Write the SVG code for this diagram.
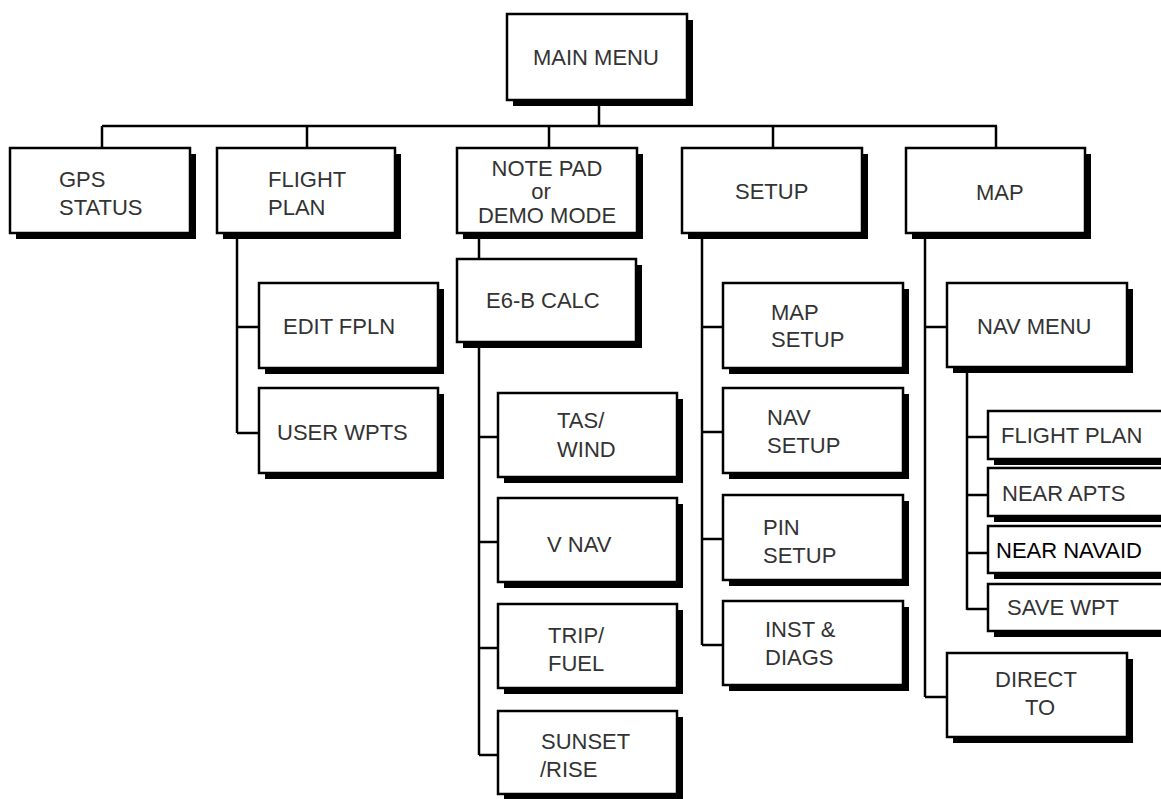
<svg xmlns="http://www.w3.org/2000/svg" width="1161" height="799" viewBox="0 0 1161 799">
<style>
.sh{fill:#000}
.bx{fill:#fff;stroke:#000;stroke-width:2.5}
.t{font-family:"Liberation Sans",Arial,sans-serif;font-size:22px;fill:#333}
.c{fill:none;stroke:#000;stroke-width:2.5}
</style>
<rect width="1161" height="799" fill="#fff"/>
<g id="connectors">
<path class="c" d="M599,100V126M102,126H997M102,126V148M307,126V148M549,126V148M773,126V148M996,126V148"/>
<path class="c" d="M237,233V433M237,327H259M237,433H259"/>
<path class="c" d="M479,233V259"/>
<path class="c" d="M479,342V755M479,437H498M479,542H498M479,648H498M479,755H498"/>
<path class="c" d="M702,233V645M702,327H723M702,432H723M702,539H723M702,645H723"/>
<path class="c" d="M925,233V697M925,327H947M925,697H947"/>
<path class="c" d="M967,367V610M967,437H988M967,495H988M967,553H988M967,609H988"/>
</g>
<g id="main-menu"><rect class="sh" x="513" y="20" width="180" height="86"/><rect class="bx" x="507" y="14" width="180" height="86"/><text class="t" x="533" y="65">MAIN MENU</text></g>
<g id="gps-status"><rect class="sh" x="16" y="154" width="180" height="85"/><rect class="bx" x="10" y="148" width="180" height="85"/><text class="t" x="59" y="187">GPS</text><text class="t" x="59" y="215">STATUS</text></g>
<g id="flight-plan"><rect class="sh" x="223" y="154" width="178" height="85"/><rect class="bx" x="217" y="148" width="178" height="85"/><text class="t" x="268" y="187">FLIGHT</text><text class="t" x="268" y="215">PLAN</text></g>
<g id="note-pad"><rect class="sh" x="463" y="154" width="180" height="85"/><rect class="bx" x="457" y="148" width="180" height="85"/><text class="t" x="547" y="176" text-anchor="middle">NOTE PAD</text><text class="t" x="541" y="199" text-anchor="middle">or</text><text class="t" x="547" y="223" text-anchor="middle">DEMO MODE</text></g>
<g id="setup"><rect class="sh" x="688" y="154" width="180" height="85"/><rect class="bx" x="682" y="148" width="180" height="85"/><text class="t" x="735" y="199">SETUP</text></g>
<g id="map"><rect class="sh" x="912" y="154" width="179" height="85"/><rect class="bx" x="906" y="148" width="179" height="85"/><text class="t" x="976" y="200">MAP</text></g>
<g id="edit-fpln"><rect class="sh" x="265" y="289" width="179" height="85"/><rect class="bx" x="259" y="283" width="179" height="85"/><text class="t" x="283" y="334">EDIT FPLN</text></g>
<g id="user-wpts"><rect class="sh" x="265" y="394" width="179" height="85"/><rect class="bx" x="259" y="388" width="179" height="85"/><text class="t" x="277" y="440">USER WPTS</text></g>
<g id="e6b-calc"><rect class="sh" x="463" y="265" width="179" height="83"/><rect class="bx" x="457" y="259" width="179" height="83"/><text class="t" x="486" y="308">E6-B CALC</text></g>
<g id="tas-wind"><rect class="sh" x="504" y="399" width="179" height="84"/><rect class="bx" x="498" y="393" width="179" height="84"/><text class="t" x="557" y="428">TAS/</text><text class="t" x="557" y="457">WIND</text></g>
<g id="v-nav"><rect class="sh" x="504" y="504" width="179" height="84"/><rect class="bx" x="498" y="498" width="179" height="84"/><text class="t" x="547" y="552">V NAV</text></g>
<g id="trip-fuel"><rect class="sh" x="504" y="610" width="179" height="84"/><rect class="bx" x="498" y="604" width="179" height="84"/><text class="t" x="548" y="643">TRIP/</text><text class="t" x="548" y="671">FUEL</text></g>
<g id="sunset-rise"><rect class="sh" x="504" y="717" width="179" height="83"/><rect class="bx" x="498" y="711" width="179" height="83"/><text class="t" x="541" y="749">SUNSET</text><text class="t" x="540" y="777">/RISE</text></g>
<g id="map-setup"><rect class="sh" x="729" y="289" width="180" height="85"/><rect class="bx" x="723" y="283" width="180" height="85"/><text class="t" x="771" y="320">MAP</text><text class="t" x="771" y="347">SETUP</text></g>
<g id="nav-setup"><rect class="sh" x="729" y="394" width="180" height="85"/><rect class="bx" x="723" y="388" width="180" height="85"/><text class="t" x="767" y="425">NAV</text><text class="t" x="767" y="453">SETUP</text></g>
<g id="pin-setup"><rect class="sh" x="729" y="501" width="180" height="85"/><rect class="bx" x="723" y="495" width="180" height="85"/><text class="t" x="763" y="535">PIN</text><text class="t" x="763" y="563">SETUP</text></g>
<g id="inst-diags"><rect class="sh" x="729" y="607" width="180" height="84"/><rect class="bx" x="723" y="601" width="180" height="84"/><text class="t" x="765" y="637">INST &amp;</text><text class="t" x="765" y="665">DIAGS</text></g>
<g id="nav-menu"><rect class="sh" x="953" y="289" width="180" height="84"/><rect class="bx" x="947" y="283" width="180" height="84"/><text class="t" x="977" y="334">NAV MENU</text></g>
<g id="nm-flight-plan"><rect class="sh" x="994" y="417" width="190" height="48"/><rect class="bx" x="988" y="411" width="190" height="48"/><text class="t" x="1001" y="443">FLIGHT PLAN</text></g>
<g id="near-apts"><rect class="sh" x="994" y="474" width="190" height="48"/><rect class="bx" x="988" y="468" width="190" height="48"/><text class="t" x="1002" y="501">NEAR APTS</text></g>
<g id="near-navaid"><rect class="sh" x="994" y="532" width="190" height="47"/><rect class="bx" x="988" y="526" width="190" height="47"/><text class="t" x="996" y="558" style="fill:#000">NEAR NAVAID</text></g>
<g id="save-wpt"><rect class="sh" x="994" y="590" width="190" height="47"/><rect class="bx" x="988" y="584" width="190" height="47"/><text class="t" x="1007" y="615">SAVE WPT</text></g>
<g id="direct-to"><rect class="sh" x="953" y="659" width="180" height="84"/><rect class="bx" x="947" y="653" width="180" height="84"/><text class="t" x="995" y="687">DIRECT</text><text class="t" x="1025" y="715">TO</text></g>
</svg>
